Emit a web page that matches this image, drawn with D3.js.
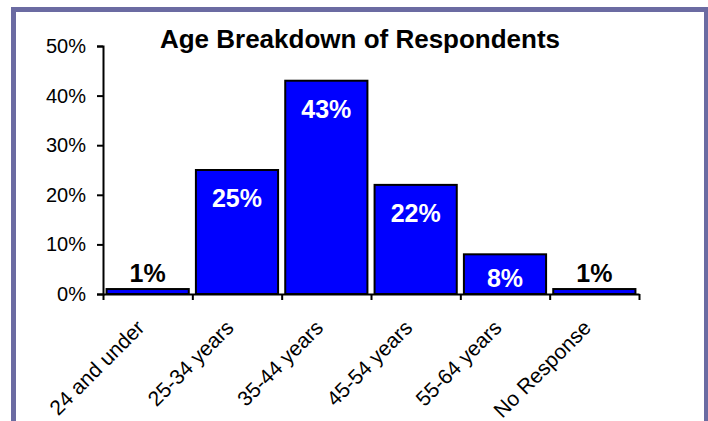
<!DOCTYPE html>
<html>
<head>
<meta charset="utf-8">
<script src="https://cdn.jsdelivr.net/npm/d3@7"></script>
<style>
  html, body { margin: 0; padding: 0; background: #ffffff; }
  svg { display: block; font-family: "Liberation Sans", Arial, sans-serif; }
</style>
</head>
<body>
<svg id="chart" width="708" height="421"></svg>
<script>
// Age groups of respondents and their share of all responses
const categories = ["24 and under", "25-34 years", "35-44 years", "45-54 years", "55-64 years", "No Response"];
const shares = [0.01, 0.25, 0.43, 0.22, 0.08, 0.01];
const yTickValues = [0, 0.1, 0.2, 0.3, 0.4, 0.5];
const chartTitle = "Age Breakdown of Respondents";

const svg = d3.select("#chart");

// plot area
const plot = { left: 103, right: 639, top: 46, bottom: 294 };

// outer frame
svg.append("rect")
  .attr("x", 13.5).attr("y", 9.5)
  .attr("width", 693).attr("height", 430)
  .attr("fill", "#ffffff")
  .attr("stroke", "#6b6ba2")
  .attr("stroke-width", 5);

const x = d3.scaleBand()
  .domain(categories)
  .range([plot.left, plot.right])
  .paddingInner(0.08)
  .paddingOuter(0.04);

// category boundaries for the x-axis tick marks
const xEdges = d3.scaleLinear()
  .domain([0, categories.length])
  .range([plot.left, plot.right]);

const y = d3.scaleLinear()
  .domain([0, 0.5])
  .range([plot.bottom, plot.top]);

const fmt = d3.format(".0%");

// bars
svg.append("g")
  .selectAll("rect")
  .data(shares)
  .join("rect")
  .attr("x", (d, i) => x(categories[i]))
  .attr("y", d => y(d))
  .attr("width", x.bandwidth())
  .attr("height", d => y(0) - y(d))
  .attr("fill", "#0000ff")
  .attr("stroke", "#000000")
  .attr("stroke-width", 2);

// y axis
const yAxis = svg.append("g")
  .attr("transform", `translate(${plot.left},0)`)
  .call(d3.axisLeft(y).tickValues(yTickValues).tickFormat(fmt).tickSize(6).tickPadding(11));
yAxis.select(".domain").attr("stroke", "#000").attr("stroke-width", 2);
yAxis.selectAll(".tick line").attr("stroke", "#000").attr("stroke-width", 2);
yAxis.selectAll(".tick text")
  .attr("font-size", 20)
  .attr("font-family", "Liberation Sans, Arial, sans-serif")
  .attr("fill", "#000");

// x axis (tick marks between categories)
const xAxis = svg.append("g")
  .attr("transform", `translate(0,${plot.bottom})`)
  .call(d3.axisBottom(xEdges).tickValues(d3.range(categories.length + 1)).tickFormat("").tickSize(6).tickSizeOuter(0));
xAxis.select(".domain").attr("stroke", "#000").attr("stroke-width", 2);
xAxis.selectAll(".tick line").attr("stroke", "#000").attr("stroke-width", 2);

// rotated category labels
svg.append("g")
  .selectAll("text")
  .data(categories)
  .join("text")
  .attr("transform", d => `translate(${x(d) + x.bandwidth() / 2 - 2},${plot.bottom + 35}) rotate(-45)`)
  .attr("text-anchor", "end")
  .attr("font-size", 21)
  .attr("fill", "#000")
  .text(d => d);

// value labels: inside the bar in white, or above short bars in black
svg.append("g")
  .selectAll("text")
  .data(shares)
  .join("text")
  .attr("x", (d, i) => x(categories[i]) + x.bandwidth() / 2)
  .attr("y", d => {
    const h = y(0) - y(d);
    return d >= 0.05 ? y(d) + Math.min(37, h - 7) : y(d) - 7;
  })
  .attr("text-anchor", "middle")
  .attr("font-size", 25)
  .attr("font-weight", "bold")
  .attr("fill", d => d >= 0.05 ? "#ffffff" : "#000000")
  .text(d => fmt(d));

// title
svg.append("text")
  .attr("x", 360)
  .attr("y", 48)
  .attr("text-anchor", "middle")
  .attr("font-size", 26)
  .attr("font-weight", "bold")
  .attr("fill", "#000")
  .text(chartTitle);
</script>
</body>
</html>
